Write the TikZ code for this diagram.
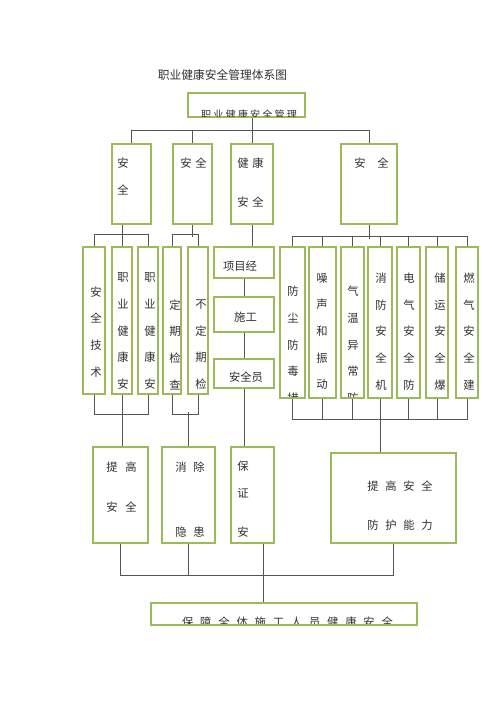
\documentclass[tikz,border=0pt]{standalone}
\usepackage{fontspec}
\newfontfamily\cjk{Noto Sans CJK SC}
\usetikzlibrary{fit,calc,backgrounds}
\definecolor{boxgreen}{RGB}{155,187,89}
\definecolor{linegray}{RGB}{85,85,85}
\definecolor{txtgray}{RGB}{50,50,50}
\newcommand{\kong}[1]{\hspace*{#1pt}}
\newcommand{\kg}{\hspace*{5.1pt}}
\tikzset{
  box/.style={draw=boxgreen, line width=1.8pt, inner sep=0pt},
  conn/.style={draw=linegray, line width=0.6pt},
  txt/.style={font=\cjk\fontsize{8.5}{20}\selectfont, text=txtgray, inner sep=0pt, align=center},
}
\begin{document}
\begin{tikzpicture}[x=0.75pt, y=-0.75pt]
		%%%%% START %%%%%
		\useasboundingbox (0,0) rectangle (500,707);
		
		\node[font=\cjk\fontsize{8.8}{10}\selectfont, text=txtgray, inner sep=0pt] (title) at (222.5,75) {职业健康安全管理体系图};
		
		% top
		\node[box, fit={(188,93) (305,117)}] (top) {};
		\begin{scope}
			\clip ([shift={(1,1)}]top.north west) rectangle ([shift={(-1,-2)}]top.south east);
			\node[txt, font=\cjk\fontsize{7.6}{10}\selectfont] (top-t) at (249,115) {职\kong{1.6}业\kong{1.6}健\kong{1.6}康\kong{1.6}安\kong{1.6}全\kong{1.6}管\kong{1.6}理};
		\end{scope}
		
		% second row
		\node[box, fit={(112,144) (151,224)}] (aq) {};
		\node[box, fit={(173,144) (212,224)}] (aqb) {};
		\node[box, fit={(231,144) (273,224)}] (jk) {};
		\node[box, fit={(341,144) (397,224)}] (aqd) {};
		\node[txt] (aq-t) at (123,176.5) {安\\全};
		\node[txt] (aqb-t) at (193.5,163) {安\kong{2.8}全};
		\node[txt] (jk-t) at (250.5,182.5) {健\kong{2.8}康\\[9pt]安\kong{2.8}全};
		\node[txt] (aqd-t) at (371.5,163) {安\kong{8.8}全};
		
		% third row, left
		\node[box, fit={(83,247) (105,394)}] (js) {};
		\node[box, fit={(112,247) (132,394)}] (zy1) {};
		\node[box, fit={(138,247) (158,394)}] (zy2) {};
		\node[box, fit={(163,247) (181,394)}] (dq) {};
		\node[box, fit={(188,247) (208,394)}] (bdq) {};
		\node[box, fit={(214,247) (274,278)}] (xm) {};
		\node[box, fit={(214,297) (274,332)}] (sg) {};
		\node[box, fit={(214,359) (274,388)}] (aqy) {};
		\node[txt] (js-t) at (96,332) {安\\全\\技\\术};
		\node[txt] (zy1-t) at (123,331) {职\\业\\健\\康\\安};
		\node[txt] (zy2-t) at (150,331) {职\\业\\健\\康\\安};
		\node[txt] (dq-t) at (175,344.5) {定\\期\\检\\查};
		\node[txt] (bdq-t) at (201,344.5) {不\\定\\期\\检};
		\node[txt] (xm-t) at (240,266) {项目经};
		\node[txt] (sg-t) at (245.5,317) {施工};
		\node[txt] (aqy-t) at (246,377) {安全员};
		
		% third row, right
		\node[box, fit={(280,247) (305,398)}] (fc) {};
		\node[box, fit={(309,247) (336,398)}] (zs) {};
		\node[box, fit={(341,247) (364,398)}] (qw) {};
		\node[box, fit={(368,247) (392,398)}] (xf) {};
		\node[box, fit={(397,247) (420,398)}] (dqf) {};
		\node[box, fit={(426,247) (448,398)}] (cy) {};
		\node[box, fit={(456,247) (478,398)}] (rq) {};
		\begin{scope}
			\clip ([shift={(1,1)}]fc.north west) rectangle ([shift={(-1,-2.5)}]fc.south east);
			\node[txt] (fc-t) at (293,345) {防\\尘\\防\\毒\\措};
		\end{scope}
		\node[txt] (zs-t) at (322,331.5) {噪\\声\\和\\振\\动};
		\begin{scope}
			\clip ([shift={(1,1)}]qw.north west) rectangle ([shift={(-1,-2.5)}]qw.south east);
			\node[txt] (qw-t) at (353,345) {气\\温\\异\\常\\防};
		\end{scope}
		\node[txt] (xf-t) at (381,331.5) {消\\防\\安\\全\\机};
		\node[txt] (dqf-t) at (409,331.5) {电\\气\\安\\全\\防};
		\node[txt] (cy-t) at (440,331.5) {储\\运\\安\\全\\爆};
		\node[txt] (rq-t) at (469,331.5) {燃\\气\\安\\全\\建};
		
		% fourth row
		\node[box, fit={(93,447) (148,543)}] (tg) {};
		\node[box, fit={(162,447) (215,543)}] (xc) {};
		\node[box, fit={(231,447) (274,543)}] (bz) {};
		\node[box, fit={(331,453) (456,543)}] (tgfh) {};
		\node[txt] (tg-t) at (121.5,487) {提\kong{5.8}高\\[10pt]安\kong{5.8}全};
		\node[txt] (xc-t) at (190,499.5) {消\kong{5}除\\[28.75pt]隐\kong{5}患};
		\node[txt] (bz-t) at (243,499.5) {保\\证\\[9.25pt]安};
		\node[txt] (tgfh-t) at (400,505.5) {提\kong{5}高\kong{5}安\kong{5}全\\[9.25pt]防\kong{5}护\kong{5}能\kong{5}力};
		
		% bottom
		\node[box, fit={(151,603) (417,625)}] (bm) {};
		\begin{scope}
			\clip ([shift={(1,1)}]bm.north west) rectangle ([shift={(-1,-3)}]bm.south east);
			\node[txt] (bm-t) at (287.5,622.5) {保\kg 障\kg 全\kg 体\kg 施\kg 工\kg 人\kg 员\kg 健\kg 康\kg 安\kg 全};
		\end{scope}
		
		\begin{scope}[on background layer]
			\fill[white] (0,0) rectangle (500,707);
			
			\draw[conn] (top.south -| jk.north) -- (jk.north);
			\draw[conn] (aq.north) -- ++(0,-12) -| (aqd.north);
			\draw[conn] (aqb.north) -- ++(0,-12);
			
			\draw[conn] (js.north) -- ++(0,-11) -| (zy2.north);
			\draw[conn] (zy1.north) -- (zy1.north |- aq.south);
			\draw[conn] (dq.north) -- ++(0,-11) -| (bdq.north);
			\draw[conn] (aqb.south) -- ++(0,12);
			\draw[conn] (jk.south) -- (jk.south |- xm.north);
			\draw[conn] (xm.south) -- (sg.north);
			\draw[conn] (sg.south) -- (aqy.north);
			\draw[conn] (fc.north) -- ++(0,-9) -| (rq.north);
			\foreach \n in {zs,qw,xf,dqf,cy}
				\draw[conn] (\n.north) -- ++(0,-9);
			\draw[conn] (aqd.south) -- ++(0,14);
			
			\draw[conn] (js.south) -- ++(0,19) -| (zy2.south);
			\draw[conn] (zy1.south) -- (zy1.south |- tg.north);
			\draw[conn] (dq.south) -- ++(0,19) -| (bdq.south);
			\draw[conn] (xc.north) -- ++(0,-34);
			\draw[conn] (aqy.south) -- (aqy.south |- bz.north);
			\draw[conn] (fc.south) -- ++(0,20) -| (rq.south);
			\foreach \n in {zs,qw,xf,dqf,cy}
				\draw[conn] (\n.south) -- ++(0,20);
			\draw[conn] (xf.south) -- (xf.south |- tgfh.north);
			
			\coordinate (bzo) at ($(bz.south)+(10.5,0)$);
			\draw[conn] (tg.south) -- ++(0,31) -| (tgfh.south);
			\draw[conn] (xc.south) -- ++(0,31);
			\draw[conn] (bzo) -- (bzo |- bm.north);
		\end{scope}
		%%%%% END %%%%%
\end{tikzpicture}
\end{document}
